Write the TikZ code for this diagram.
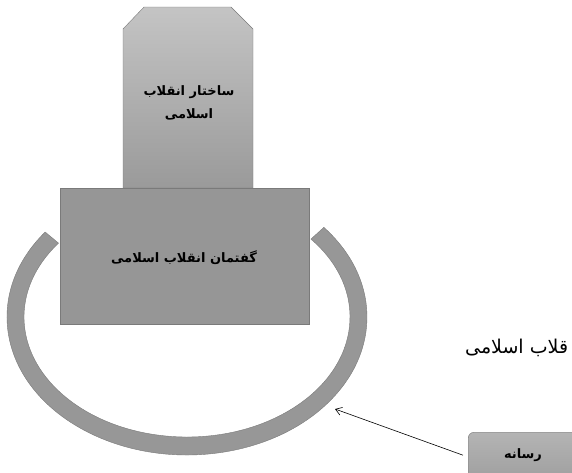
\documentclass[tikz,border=0pt]{standalone}
\usepackage{fontspec}
\TeXXeTstate=1
\newfontfamily\arabicfont[Script=Arabic]{DejaVu Sans}
\usetikzlibrary{arrows.meta,calc}
\definecolor{boxgray}{HTML}{969696}
\definecolor{ringgray}{HTML}{979797}
\definecolor{edgegray}{HTML}{7A7A7A}
\definecolor{toptop}{HTML}{C4C4C4}
\definecolor{topbot}{HTML}{9A9A9A}
\definecolor{medtop}{HTML}{B4B4B4}
\definecolor{medbot}{HTML}{A0A0A0}
\begin{document}
\begin{tikzpicture}[x=1pt,y=-1pt,
  boxtext/.style={font=\arabicfont\bfseries\fontsize{13}{23}\selectfont, text=black, align=center, inner sep=0pt},
  plaintext/.style={font=\arabicfont\fontsize{19}{22}\selectfont, text=black, inner sep=0pt},
  edge/.style={draw=edgegray, line width=0.4pt}]
\useasboundingbox (0,0) rectangle (572,472);
\clip (0,0) rectangle (572,472);
% ring
\path[edge, fill=ringgray]
  (187,317) ++(-142:180 and 138)
  arc[start angle=-142, end angle=-400.5, x radius=180, y radius=138]
  -- ($(187,317)+(-400.5:163 and 120)$)
  arc[start angle=-400.5, end angle=-142, x radius=163, y radius=120] -- cycle;
% top box
\shade[edge, top color=toptop, bottom color=topbot]
  (123,188) -- (123,29) -- (144,7) -- (231,7) -- (253,29) -- (253,188) -- cycle;
\node[boxtext] (struct) at (189,103) {\beginR ساختار انقلاب\endR\\\beginR اسلامی\endR};
% discourse box
\node[edge, fill=boxgray, minimum width=249pt, minimum height=136pt, inner sep=0pt, anchor=north west] (disc) at (60,188) {};
\node[boxtext] (disctext) at (184,258) {\beginR گفتمان انقلاب اسلامی\endR};
% media box
\node[edge, rounded corners=6pt, top color=medtop, bottom color=medbot, minimum width=140pt, minimum height=46pt, inner sep=0pt, anchor=north west] (media) at (468,432) {};
\node[boxtext] (mediatext) at (523,455) {\beginR رسانه\endR};
% label
\node[plaintext, anchor=west] (lbl) at (465,348) {\beginR قلاب اسلامی\endR};
% arrow
\coordinate (hit) at (335,409);
\draw[-{Straight Barb[length=6pt,width=8pt]}, line width=0.6pt] ([xshift=-5pt]media.west) -- (hit);
\end{tikzpicture}
\end{document}
